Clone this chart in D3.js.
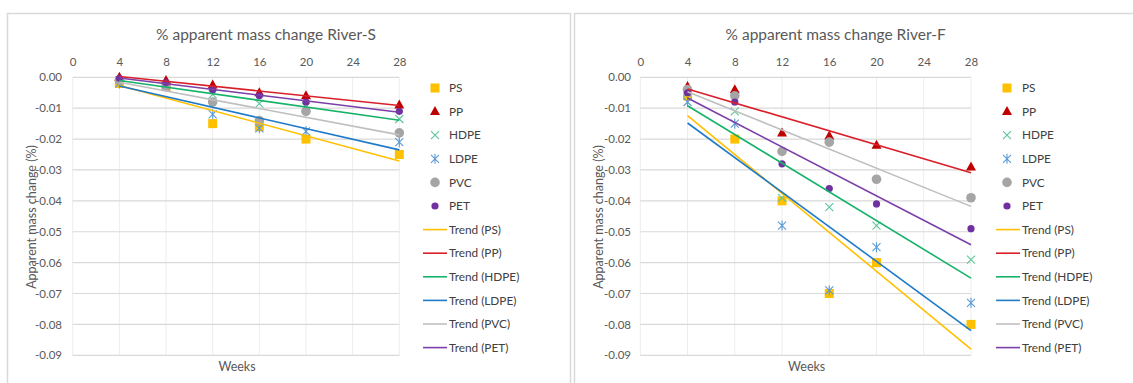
<!DOCTYPE html>
<html>
<head>
<meta charset="utf-8">
<script src="https://cdn.jsdelivr.net/npm/d3@7"></script>
<style>
  html, body { margin: 0; padding: 0; background: #fff; }
  svg { display: block; font-family: Lato, "Open Sans", sans-serif; }
</style>
</head>
<body>
<svg id="chart" width="1133" height="383"></svg>
<script>
// Sampling weeks and polymer series
const weeks = [4, 8, 12, 16, 20, 28];
const polymers = ["PS", "PP", "HDPE", "LDPE", "PVC", "PET"];
const xTicks = [0, 4, 8, 12, 16, 20, 24, 28];
const yTicks = [0, -0.01, -0.02, -0.03, -0.04, -0.05, -0.06, -0.07, -0.08, -0.09];

// River-S apparent mass change (%)
const riverS_PS   = [-0.002, -0.003, -0.015, -0.016, -0.020, -0.025];
const riverS_PP   = [ 0.000, -0.001, -0.0025, -0.005, -0.006, -0.009];
const riverS_HDPE = [-0.001, -0.0025, -0.0055, -0.0085, -0.0095, -0.0135];
const riverS_LDPE = [-0.002, -0.003, -0.012, -0.0165, -0.0175, -0.021];
const riverS_PVC  = [-0.001, -0.003, -0.008, -0.014, -0.011, -0.018];
const riverS_PET  = [-0.0003, -0.0017, -0.004, -0.006, -0.008, -0.011];

// River-F apparent mass change (%)
const riverF_PS   = [-0.006, -0.020, -0.040, -0.070, -0.060, -0.080];
const riverF_PP   = [-0.003, -0.004, -0.018, -0.019, -0.022, -0.029];
const riverF_HDPE = [-0.005, -0.011, -0.039, -0.042, -0.048, -0.059];
const riverF_LDPE = [-0.008, -0.015, -0.048, -0.069, -0.055, -0.073];
const riverF_PVC  = [-0.004, -0.006, -0.024, -0.021, -0.033, -0.039];
const riverF_PET  = [-0.005, -0.008, -0.028, -0.036, -0.041, -0.049];

const markerColor = { PS: "#FFC000", PP: "#C00000", HDPE: "#5DC59A", LDPE: "#5B9BD5", PVC: "#A5A5A5", PET: "#7030A0" };
const trendColor  = { PS: "#FFC000", PP: "#D9202A", HDPE: "#17B26A", LDPE: "#1F7AC8", PVC: "#BFBFBF", PET: "#7A3FA8" };

const panels = [
  { title: "% apparent mass change River-S", box: [7, 13, 563, 380], xr: [72.7, 399.3], yLabelX: 62, yTitleX: 31, legendMarkX: 435, legendLineX: [423, 447], legendTextX: 449,
    series: { PS: riverS_PS, PP: riverS_PP, HDPE: riverS_HDPE, LDPE: riverS_LDPE, PVC: riverS_PVC, PET: riverS_PET } },
  { title: "% apparent mass change River-F", box: [574, 13, 565, 380], xr: [640.3, 971], yLabelX: 631, yTitleX: 598, legendMarkX: 1007, legendLineX: [996, 1020], legendTextX: 1022,
    series: { PS: riverF_PS, PP: riverF_PP, HDPE: riverF_HDPE, LDPE: riverF_LDPE, PVC: riverF_PVC, PET: riverF_PET } }
];

const svg = d3.select("#chart");
const textColor = "#595959";
const fmtY = d => d3.format(".2f")(d).replace("\u2212", "-");

// Ordinary least-squares linear trend
function linearTrend(xs, ys) {
  const mx = d3.mean(xs), my = d3.mean(ys);
  const sxy = d3.sum(xs, (x, i) => (x - mx) * (ys[i] - my));
  const sxx = d3.sum(xs, x => (x - mx) * (x - mx));
  const b = sxy / sxx, a = my - b * mx;
  return x => a + b * x;
}

function drawMarker(g, type, cx, cy) {
  const c = markerColor[type];
  if (type === "PS") {
    g.append("rect").attr("x", cx - 4.5).attr("y", cy - 4.5).attr("width", 9).attr("height", 9).attr("fill", c);
  } else if (type === "PP") {
    g.append("path").attr("d", `M${cx},${cy - 5.5}L${cx + 5},${cy + 3.5}L${cx - 5},${cy + 3.5}Z`).attr("fill", c);
  } else if (type === "HDPE") {
    g.append("path").attr("d", `M${cx - 4},${cy - 4}L${cx + 4},${cy + 4}M${cx - 4},${cy + 4}L${cx + 4},${cy - 4}`)
      .attr("stroke", c).attr("stroke-width", 1.1).attr("fill", "none");
  } else if (type === "LDPE") {
    g.append("path").attr("d", `M${cx - 4},${cy - 4}L${cx + 4},${cy + 4}M${cx - 4},${cy + 4}L${cx + 4},${cy - 4}M${cx},${cy - 5}L${cx},${cy + 5}`)
      .attr("stroke", c).attr("stroke-width", 1.1).attr("fill", "none");
  } else if (type === "PVC") {
    g.append("circle").attr("cx", cx).attr("cy", cy).attr("r", 4.8).attr("fill", c);
  } else {
    g.append("circle").attr("cx", cx).attr("cy", cy).attr("r", 3.6).attr("fill", c);
  }
}

panels.forEach(p => {
  const g = svg.append("g");
  // panel frame
  g.append("rect").attr("x", p.box[0] + 0.5).attr("y", p.box[1] + 0.5).attr("width", p.box[2]).attr("height", p.box[3])
    .attr("fill", "#fff").attr("stroke", "#D9D9D9").attr("stroke-width", 1.5);

  const x = d3.scaleLinear().domain([0, 28]).range(p.xr);
  const y = d3.scaleLinear().domain([0, -0.09]).range([77.3, 355.3]);

  // gridlines
  g.append("g").selectAll("line").data(xTicks).join("line")
    .attr("x1", d => x(d)).attr("x2", d => x(d)).attr("y1", y(0)).attr("y2", y(-0.09))
    .attr("stroke", "#EDEDED").attr("stroke-width", 1);
  g.append("g").selectAll("line").data(yTicks).join("line")
    .attr("x1", x(0)).attr("x2", x(28)).attr("y1", d => y(d)).attr("y2", d => y(d))
    .attr("stroke", "#D9D9D9").attr("stroke-width", 1.2);

  // top x axis labels
  const xAxis = d3.axisTop(x).tickValues(xTicks).tickSize(0).tickPadding(0).tickFormat(d3.format("d"));
  const xa = g.append("g").attr("transform", `translate(0,${65.5})`).call(xAxis);
  xa.select(".domain").remove();
  xa.selectAll("text").attr("fill", textColor).attr("font-size", 11.5).attr("font-family", "Lato, sans-serif");

  // y axis labels
  const yAxis = d3.axisLeft(y).tickValues(yTicks).tickSize(0).tickPadding(0).tickFormat(fmtY);
  const ya = g.append("g").attr("transform", `translate(${p.yLabelX},0)`).call(yAxis);
  ya.select(".domain").remove();
  ya.selectAll("text").attr("fill", textColor).attr("font-size", 11.5).attr("font-family", "Lato, sans-serif");

  // titles
  g.append("text").attr("x", (p.xr[0] + p.xr[1]) / 2 + 30).attr("y", 40).attr("text-anchor", "middle")
    .attr("font-size", 15.5).attr("fill", textColor).text(p.title);
  g.append("text").attr("transform", `translate(${p.yTitleX + 4.5},${217}) rotate(-90)`).attr("text-anchor", "middle")
    .attr("font-size", 12.5).attr("fill", textColor).text("Apparent mass change (%)");
  g.append("text").attr("x", (p.xr[0] + p.xr[1]) / 2 + 1).attr("y", 370.5).attr("text-anchor", "middle")
    .attr("font-size", 12.5).attr("fill", textColor).text("Weeks");

  // markers
  polymers.forEach(k => {
    const mg = g.append("g");
    p.series[k].forEach((v, i) => drawMarker(mg, k, x(weeks[i]), y(v)));
  });

  // linear trendlines
  polymers.forEach(k => {
    const f = linearTrend(weeks, p.series[k]);
    g.append("line").attr("x1", x(4)).attr("y1", y(f(4))).attr("x2", x(28)).attr("y2", y(f(28)))
      .attr("stroke", trendColor[k]).attr("stroke-width", 1.6);
  });

  // legend
  const rowY = i => 88 + i * 23.6;
  polymers.forEach((k, i) => {
    const lg = g.append("g");
    drawMarker(lg, k, p.legendMarkX, rowY(i));
    lg.append("text").attr("x", p.legendTextX).attr("y", rowY(i)).attr("dy", "0.35em")
      .attr("font-size", 11.8).attr("fill", "#404040").text(k);
  });
  polymers.forEach((k, i) => {
    const yy = rowY(i + 6);
    g.append("line").attr("x1", p.legendLineX[0]).attr("x2", p.legendLineX[1]).attr("y1", yy).attr("y2", yy)
      .attr("stroke", trendColor[k]).attr("stroke-width", 1.6);
    g.append("text").attr("x", p.legendTextX).attr("y", yy).attr("dy", "0.35em")
      .attr("font-size", 11.8).attr("fill", "#404040").text(`Trend (${k})`);
  });
});
</script>
</body>
</html>
